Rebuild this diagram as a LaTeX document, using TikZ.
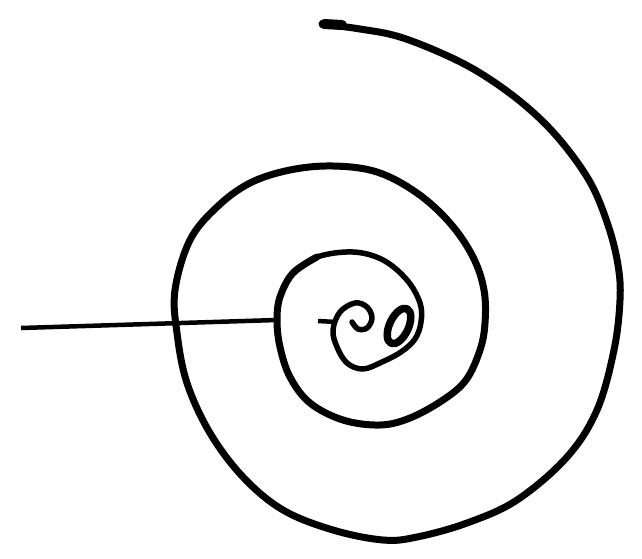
\documentclass[tikz,border=0pt]{standalone}

\begin{document}
\begin{tikzpicture}[
    x=1pt, y=-1pt,
    coil/.style={line width=7pt, line cap=round, line join=round},
    inner coil/.style={coil, line width=5.5pt},
    stem/.style={line width=4.5pt}
]

\useasboundingbox (0,0) rectangle (642,559);

% Outer turns
\draw [coil] plot [smooth, tension=0.6] coordinates {
    (322,24) (360,29) (400,37) (450,57) (488,78) (527,107) (560,140)
    (590,182) (608,225) (618,265) (620,300) (614,350) (597,410)
    (567,457) (517,500) (467,523) (417,537) (383,540) (333,530)
    (283,510) (243,477) (210,433) (187,383) (177,333) (175,290)
    (190,240) (217,207) (250,183) (290,170) (333,166) (377,172)
    (417,193) (450,223) (473,257) (484,290) (485,323) (480,350)
    (466,380) (443,400) (410,418) (380,425) (343,420) (310,403)
    (290,377) (280,347) (277,320) (280,297) (293,273) (317,257)};
\draw [coil, line width=10pt] (324,24) -- (342,25);

% Inner turn and curl
\draw [inner coil] plot [smooth, tension=0.6] coordinates {
    (293,273) (317,257) (353,252) (383,260) (407,280) (420,303)
    (421,322) (415,339) (401,352) (382,362) (363,369) (347,363)
    (337,347) (333,330) (340,312) (355,303) (367,307) (372,318)
    (367,328) (358,329) (352,322)};
\draw [inner coil, line width=7.5pt, rotate around={-25:(399,326)}]
    (399,326) ellipse [x radius=9.5, y radius=19];
\draw [stem] (318,321) -- (336,322);

% Stem
\coordinate (tail) at (21,328);
\coordinate (hub) at (277,320);
\draw [stem] (tail) -- (hub);

\end{tikzpicture}
\end{document}
